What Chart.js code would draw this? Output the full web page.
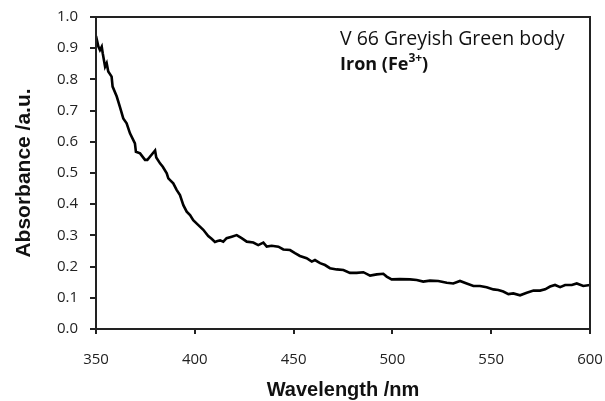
<!DOCTYPE html>
<html>
<head>
<meta charset="utf-8">
<script src="https://cdn.jsdelivr.net/npm/chart.js@4/dist/chart.umd.min.js"></script>
<style>
  html, body { margin: 0; padding: 0; background: #fff; }
  canvas { display: block; }
</style>
</head>
<body>
<canvas id="spectrum" width="605" height="401"></canvas>
<script>
// values
const wavelength = [350, 351.2, 352, 352.9, 353.4, 354.6, 355.4, 356.2, 357.9, 358.4, 360.5, 362.1, 363.8, 365.5, 367.2, 369.7, 370.2, 372.3, 374.8, 376, 377.3, 379.9, 380.5, 382.4, 383.8, 385.8, 386.6, 389.1, 390.8, 392.5, 394.2, 395.9, 397.6, 399.2, 401.8, 404.3, 406.8, 408.5, 410.2, 411.5, 412.8, 414.4, 416.1, 418.7, 421.2, 423.7, 426.3, 429.6, 432.1, 434.7, 436.4, 438.9, 442.3, 444.8, 448.2, 450.7, 453.2, 456.6, 459.2, 460.8, 463.4, 465.9, 468.4, 471.8, 475.2, 478.5, 481.9, 485.3, 488.7, 492.1, 495.4, 497.1, 499.6, 503.8, 508.9, 512.3, 515.6, 519, 523.2, 527.5, 530.8, 534.2, 537.6, 541, 544.3, 547.7, 551.1, 553.6, 556.1, 558.7, 561.2, 564.6, 568, 571.4, 574.7, 577.3, 579.8, 582.3, 584.9, 587.4, 590.8, 593.3, 596.6, 600]
const absorbance = [0.939, 0.905, 0.894, 0.905, 0.884, 0.841, 0.852, 0.825, 0.809, 0.777, 0.745, 0.712, 0.675, 0.659, 0.627, 0.595, 0.568, 0.563, 0.542, 0.542, 0.552, 0.572, 0.55, 0.531, 0.52, 0.499, 0.483, 0.467, 0.446, 0.429, 0.397, 0.376, 0.365, 0.349, 0.333, 0.318, 0.298, 0.289, 0.279, 0.282, 0.284, 0.28, 0.291, 0.296, 0.301, 0.291, 0.28, 0.277, 0.269, 0.277, 0.264, 0.267, 0.264, 0.255, 0.253, 0.243, 0.234, 0.227, 0.216, 0.221, 0.211, 0.205, 0.195, 0.191, 0.189, 0.18, 0.18, 0.182, 0.171, 0.175, 0.177, 0.168, 0.159, 0.16, 0.159, 0.157, 0.152, 0.155, 0.154, 0.148, 0.146, 0.154, 0.146, 0.138, 0.138, 0.134, 0.127, 0.125, 0.12, 0.112, 0.114, 0.108, 0.116, 0.123, 0.123, 0.127, 0.136, 0.141, 0.134, 0.141, 0.141, 0.146, 0.138, 0.141]

const xTicks = [350, 400, 450, 500, 550, 600]
const yTicks = [0, 0.1, 0.2, 0.3, 0.4, 0.5, 0.6, 0.7, 0.8, 0.9, 1.0]

const points = wavelength.map((w, i) => ({x: w, y: absorbance[i]}))

// plot frame + text box in the top right
const extras = {
    id: 'extras',
    afterDraw(chart) {
        const ctx = chart.ctx
        const a = chart.chartArea
        ctx.save()
        ctx.strokeStyle = '#222'
        ctx.lineWidth = 2
        ctx.strokeRect(a.left, a.top, a.right - a.left, a.bottom - a.top)

        ctx.fillStyle = '#111'
        ctx.textBaseline = 'alphabetic'
        ctx.font = '19.5px "Open Sans"'
        ctx.fillText('V 66 Greyish Green body', 340, 45)

        ctx.font = 'bold 18px "Open Sans"'
        let x = 340
        ctx.fillText('Iron (Fe', x, 70)
        x += ctx.measureText('Iron (Fe').width
        ctx.font = 'bold 12px "Open Sans"'
        ctx.fillText('3+', x, 62)
        x += ctx.measureText('3+').width
        ctx.font = 'bold 18px "Open Sans"'
        ctx.fillText(')', x, 70)
        ctx.restore()
    }
}

const config = {
    type: 'line',
    data: {
        datasets: [{
            data: points,
            borderColor: '#000',
            borderWidth: 2.6,
            pointRadius: 0,
            tension: 0,
            fill: false,
        }]
    },
    options: {
        responsive: false,
        animation: false,
        devicePixelRatio: 1,
        layout: {
            padding: {top: 17, right: 15, left: 0, bottom: 0}
        },
        plugins: {
            legend: {display: false},
            tooltip: {enabled: false}
        },
        scales: {
            x: {
                type: 'linear',
                min: 350,
                max: 600,
                afterBuildTicks: axis => { axis.ticks = xTicks.map(v => ({value: v})) },
                afterFit: axis => {
                    axis.height = 72
                    axis.paddingLeft = 0
                    axis.paddingRight = 0
                },
                grid: {
                    drawOnChartArea: false,
                    color: '#222',
                    tickLength: 5,
                    lineWidth: 2,
                },
                border: {color: '#222', width: 2},
                ticks: {
                    color: '#222',
                    font: {family: 'Open Sans', size: 15},
                    padding: 17,
                    maxRotation: 0,
                    autoSkip: false,
                },
                title: {
                    display: true,
                    text: 'Wavelength /nm',
                    color: '#111',
                    font: {family: 'Liberation Sans', size: 20, weight: 'bold'},
                    padding: {top: 0, bottom: -1},
                }
            },
            y: {
                min: 0,
                max: 1,
                afterBuildTicks: axis => { axis.ticks = yTicks.map(v => ({value: v})) },
                afterFit: axis => {
                    axis.width = 96
                    axis.paddingTop = 0
                    axis.paddingBottom = 0
                },
                grid: {
                    drawOnChartArea: false,
                    color: '#222',
                    tickLength: 6,
                    lineWidth: 2,
                },
                border: {color: '#222', width: 2},
                ticks: {
                    color: '#222',
                    font: {family: 'Open Sans', size: 15},
                    padding: 12,
                    autoSkip: false,
                    callback: v => v.toFixed(1),
                },
                title: {
                    display: true,
                    text: 'Absorbance /a.u.',
                    color: '#111',
                    font: {family: 'Liberation Sans', size: 21, weight: 'bold'},
                    padding: {top: 12, bottom: 0},
                }
            }
        }
    },
    plugins: [extras]
}

const chart = new Chart(document.getElementById('spectrum'), config)
</script>
</body>
</html>
